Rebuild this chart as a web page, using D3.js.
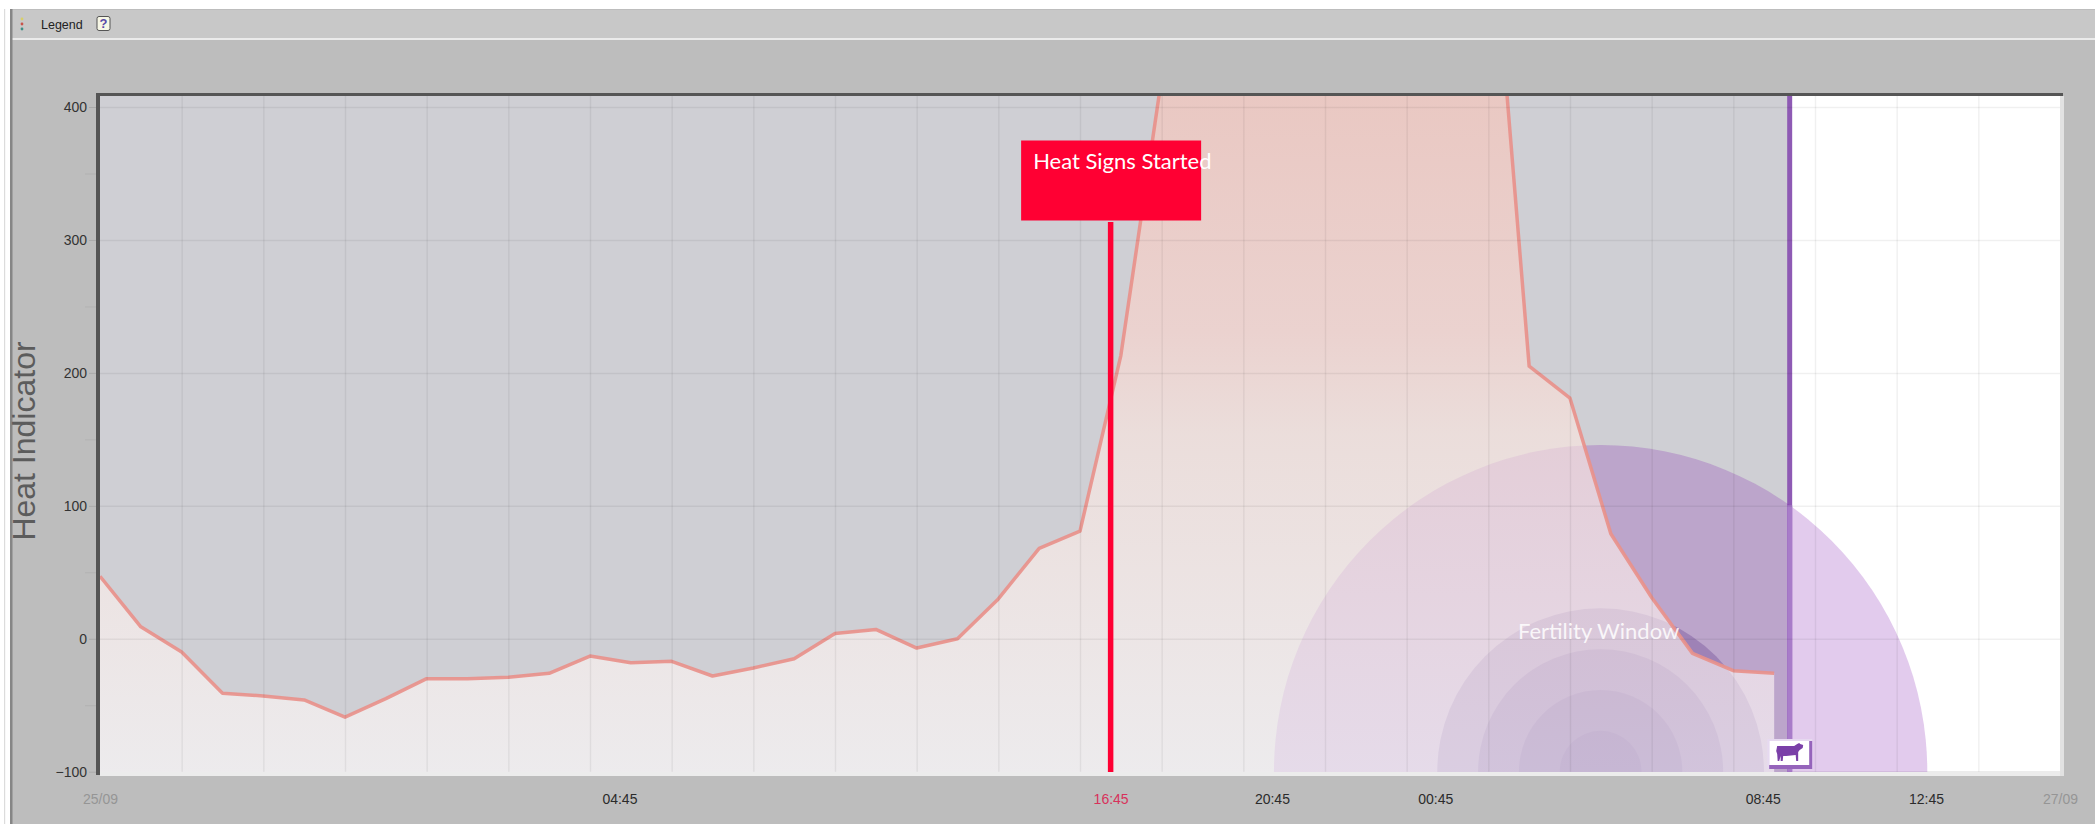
<!DOCTYPE html>
<html>
<head>
<meta charset="utf-8">
<style>
	html, body { margin: 0; padding: 0; background: #fff; overflow: hidden; }
	text { font-family: "Liberation Sans", Arial, sans-serif; }
	.domain { display: none; }
	.callout { font-family: Lato, sans-serif; fill: #fff; }
</style>
<script src="https://cdn.jsdelivr.net/npm/d3@7/dist/d3.min.js"></script>
</head>
<body>
<div id="chart"></div>
<script>
// hours from the left edge of the plot, one reading an hour
let hours = [0,1,2,3,4,5,6,7,8,9,10,11,12,13,14,15,16,17,18,19,20,21,22,23,24,25,26,27,28,29,30,31,32,33,34,35,36,37,38,39,40,41];
// readings 27-34 run off the top of the plot, those are estimates
let heat = [47,9,-10,-41,-43,-46,-59,-45,-30,-30,-29,-26,-13,-18,-17,-28,-22,-15,4,7,-7,0,30,68,81,213,422,470,520,560,590,600,610,600,581,205,181,79,31,-11,-24,-26];

let yTicks = [-100,0,100,200,300,400];
let yMinor = [-50,50,150,250,350];
let xGrid = [2,4,6,8,10,12,14,16,18,20,22,24,26,28,30,32,34,36,38,40,42,44,46];
let xTickHours = [0,12.72,24.75,28.7,32.7,40.72,44.72,48];
let xTickLabels = ['25/09','04:45','16:45','20:45','00:45','08:45','12:45','27/09'];

let heatStart = 24.75;
let inseminate = 41.38;
let fertilityCentre = 36.75;
let fertilityRings = [8,4,3,2,1];

let canvasWidth = 2095;
let canvasHeight = 824;
let margin = { top: 96, right: 35, bottom: 52, left: 100 };
let plotRight = canvasWidth - margin.right;
let plotBottom = canvasHeight - margin.bottom;

let x = d3.scaleLinear().domain([0, 48]).range([margin.left, plotRight]);
let y = d3.scaleLinear().domain([-100, 400]).range([771.7, 107]);

let svg = d3.select('#chart').append('svg')
	.attr('width', canvasWidth)
	.attr('height', canvasHeight)
	.style('display', 'block');

let defs = svg.append('defs');
defs.append('clipPath').attr('id', 'plot-clip').append('rect')
	.attr('x', margin.left)
	.attr('y', margin.top)
	.attr('width', plotRight - margin.left)
	.attr('height', plotBottom - margin.top);

let grad = defs.append('linearGradient').attr('id', 'heat-fill')
	.attr('gradientUnits', 'userSpaceOnUse')
	.attr('x1', 0).attr('x2', 0)
	.attr('y1', margin.top).attr('y2', plotBottom);
grad.append('stop').attr('offset', '0%').attr('stop-color', 'rgb(250,196,184)');
grad.append('stop').attr('offset', '35%').attr('stop-color', 'rgb(252,212,204)');
grad.append('stop').attr('offset', '50%').attr('stop-color', 'rgb(252,230,223)');
grad.append('stop').attr('offset', '72%').attr('stop-color', 'rgb(254,240,236)');
grad.append('stop').attr('offset', '100%').attr('stop-color', 'rgb(255,252,252)');

// window chrome
svg.append('rect').attr('x', 10).attr('y', 9).attr('width', canvasWidth - 10).attr('height', canvasHeight - 9).attr('fill', '#bdbdbd');
svg.append('rect').attr('x', 12).attr('y', 10).attr('width', canvasWidth - 12).attr('height', 28).attr('fill', '#c8c8c8');
svg.append('rect').attr('x', 12).attr('y', 38).attr('width', canvasWidth - 12).attr('height', 2).attr('fill', '#ebebeb');
svg.append('rect').attr('x', 10).attr('y', 9).attr('width', 2.5).attr('height', canvasHeight - 9).attr('fill', '#868686');
svg.append('rect').attr('x', 4).attr('y', 9).attr('width', 1.2).attr('height', canvasHeight - 9).attr('fill', '#dcdcdc');

let dots = svg.append('g').attr('id', 'legend-grip');
dots.selectAll('circle')
	.data(['#d8cf6a', '#c9534a', '#3f8f86'])
	.enter().append('circle')
		.attr('cx', 22)
		.attr('cy', (o, i) => (19 + i * 5))
		.attr('r', 1.4)
		.attr('fill', (o) => (o));

svg.append('text').attr('x', 41).attr('y', 29).attr('font-size', 12.5).attr('fill', '#222').text('Legend');
svg.append('rect').attr('x', 97).attr('y', 16.5).attr('width', 13).attr('height', 14).attr('rx', 2)
	.attr('fill', '#f7f7e6').attr('stroke', '#555').attr('stroke-width', 1);
svg.append('text').attr('x', 103.5).attr('y', 28).attr('text-anchor', 'middle').attr('font-size', 13).attr('font-weight', 'bold').attr('fill', '#5a4aa8').text('?');

// plot background
svg.append('rect')
	.attr('x', margin.left).attr('y', margin.top)
	.attr('width', plotRight - margin.left).attr('height', 675)
	.attr('fill', '#fff');
svg.append('rect')
	.attr('x', margin.left).attr('y', 771)
	.attr('width', plotRight - margin.left + 4).attr('height', 5)
	.attr('fill', '#ececec');
svg.append('rect')
	.attr('x', plotRight).attr('y', margin.top)
	.attr('width', 4).attr('height', 680)
	.attr('fill', '#e2e2e2');

let plot = svg.append('g').attr('clip-path', 'url(#plot-clip)');

plot.append('rect')
	.attr('id', 'before-insemination')
	.attr('x', x(0)).attr('y', margin.top)
	.attr('width', x(inseminate) - x(0)).attr('height', plotBottom - margin.top)
	.attr('fill', '#cfcfd4');

plot.append('line')
	.attr('x1', x(inseminate)).attr('x2', x(inseminate))
	.attr('y1', margin.top).attr('y2', y(-100))
	.attr('stroke', '#8e5ab4').attr('stroke-width', 5);

// fertility window, half circles sat on the base of the plot
let ringRadius = (o) => (x(o) - x(0));
plot.append('g').attr('id', 'fertility-window')
	.selectAll('circle')
	.data(fertilityRings)
	.enter().append('circle')
		.attr('cx', x(fertilityCentre))
		.attr('cy', y(-100))
		.attr('r', ringRadius)
		.attr('fill', (o, i) => (i === 0 ? 'rgb(120,10,170)' : 'rgb(75,30,125)'))
		.attr('fill-opacity', (o, i) => (i === 0 ? 0.21 : 0.26));

// inside the window the marker shows lighter
let markerDx = x(inseminate) - x(fertilityCentre);
let outerR = ringRadius(fertilityRings[0]);
plot.append('line')
	.attr('x1', x(inseminate)).attr('x2', x(inseminate))
	.attr('y1', y(-100) - Math.sqrt(outerR * outerR - markerDx * markerDx)).attr('y2', y(-100))
	.attr('stroke', '#a87cc9').attr('stroke-width', 5);

let area = d3.area()
	.x((o, i) => (x(hours[i])))
	.y0(plotBottom)
	.y1((o) => (y(o)));
plot.append('path')
	.datum(heat)
	.attr('d', area)
	.attr('fill', 'url(#heat-fill)')
	.attr('fill-opacity', 0.62);

// grid
svg.append('g')
	.attr('id', 'grid-x')
	.attr('transform', 'translate(0,' + margin.top + ')')
	.call(d3.axisBottom(x).tickValues(xGrid).tickSize(y(-100) - margin.top).tickFormat(''))
	.selectAll('.tick line')
		.attr('stroke', '#000').attr('stroke-opacity', 0.06).attr('stroke-width', 1.5);

svg.append('g')
	.attr('id', 'grid-y')
	.attr('transform', 'translate(' + margin.left + ',0)')
	.call(d3.axisRight(y).tickValues(yTicks.slice(1)).tickSize(plotRight - margin.left).tickFormat(''))
	.selectAll('.tick line')
		.attr('stroke', '#000').attr('stroke-opacity', 0.06).attr('stroke-width', 1.5);

let line = d3.line()
	.x((o, i) => (x(hours[i])))
	.y((o) => (y(o)));
plot.append('path')
	.datum(heat)
	.attr('d', line)
	.attr('fill', 'none')
	.attr('stroke', '#e8918b')
	.attr('stroke-opacity', 0.92)
	.attr('stroke-width', 3.5)
	.attr('stroke-linejoin', 'round');

// axes
let yAxis = svg.append('g')
	.attr('transform', 'translate(' + margin.left + ',0)')
	.call(d3.axisLeft(y).tickValues(yTicks).tickSize(11).tickPadding(2));
yAxis.selectAll('text').attr('font-size', 14).attr('fill', '#333').style('font-family', '"Liberation Sans"');
yAxis.selectAll('.tick line').attr('stroke', '#000').attr('stroke-opacity', 0.1);

svg.append('g')
	.attr('transform', 'translate(' + margin.left + ',0)')
	.call(d3.axisLeft(y).tickValues(yMinor).tickSize(15).tickFormat(''))
	.selectAll('.tick line').attr('stroke', '#000').attr('stroke-opacity', 0.06);

let xAxis = svg.append('g')
	.attr('transform', 'translate(0,' + (plotBottom + 19) + ')')
	.call(d3.axisBottom(x).tickValues(xTickHours).tickSize(0).tickPadding(3).tickFormat((o, i) => (xTickLabels[i])));
xAxis.selectAll('text')
	.attr('font-size', 14)
	.style('font-family', '"Liberation Sans"')
	.attr('fill', (o, i) => {
		if (i === 0 || i === xTickLabels.length - 1) return '#959595';
		return xTickLabels[i] === '16:45' ? '#d8315b' : '#2b2b2b';
	});

svg.append('rect').attr('x', 96).attr('y', 93).attr('width', 4).attr('height', 682).attr('fill', '#555');
svg.append('rect').attr('x', 96).attr('y', 93).attr('width', plotRight + 3 - 96).attr('height', 3).attr('fill', '#555');

svg.append('text')
	.attr('transform', 'translate(35,441) rotate(-90)')
	.attr('text-anchor', 'middle')
	.attr('font-size', 32)
	.attr('fill', '#5c5c5c')
	.text('Heat Indicator');

// heat signs marker
svg.append('line')
	.attr('x1', x(heatStart)).attr('x2', x(heatStart))
	.attr('y1', 222).attr('y2', plotBottom)
	.attr('stroke', '#ff0033').attr('stroke-width', 5.5);
svg.append('rect')
	.attr('x', x(heatStart) - 89.5).attr('y', 140.5)
	.attr('width', 180).attr('height', 80)
	.attr('fill', '#ff0033');
svg.append('text')
	.attr('class', 'callout')
	.attr('x', x(heatStart) - 77.5).attr('y', 169)
	.attr('font-size', 22)
	.text('Heat Signs Started');

svg.append('text')
	.attr('class', 'callout')
	.attr('x', x(fertilityCentre) - 2).attr('y', 639)
	.attr('text-anchor', 'middle')
	.attr('font-size', 22)
	.attr('fill-opacity', 0.85)
	.text('Fertility Window');

// cow flag on the marker
let flag = svg.append('g')
	.attr('id', 'cow-flag')
	.attr('transform', 'translate(' + (x(inseminate) - 22.5) + ',739)');
flag.append('rect').attr('width', 45).attr('height', 30).attr('fill', '#e6d9f0');
flag.append('rect').attr('x', 2).attr('y', 2).attr('width', 43).attr('height', 28).attr('fill', '#9564bb');
flag.append('rect').attr('x', 2).attr('y', 2).attr('width', 40).attr('height', 24).attr('fill', '#fff');
flag.append('path')
	.attr('fill', '#7a3fa8')
	.attr('d', 'M10 7 L27 7 L30 5 L32 4 L33 5 L36 6 L35.5 9 L32.5 11 L31 13 L31 22 L29 22 L28.5 16 L19 17 L16 17 L15.5 22 L13.5 22 L13.5 17 L12 22 L10.5 22 L10 15 L9 12 Z');
</script>
</body>
</html>
